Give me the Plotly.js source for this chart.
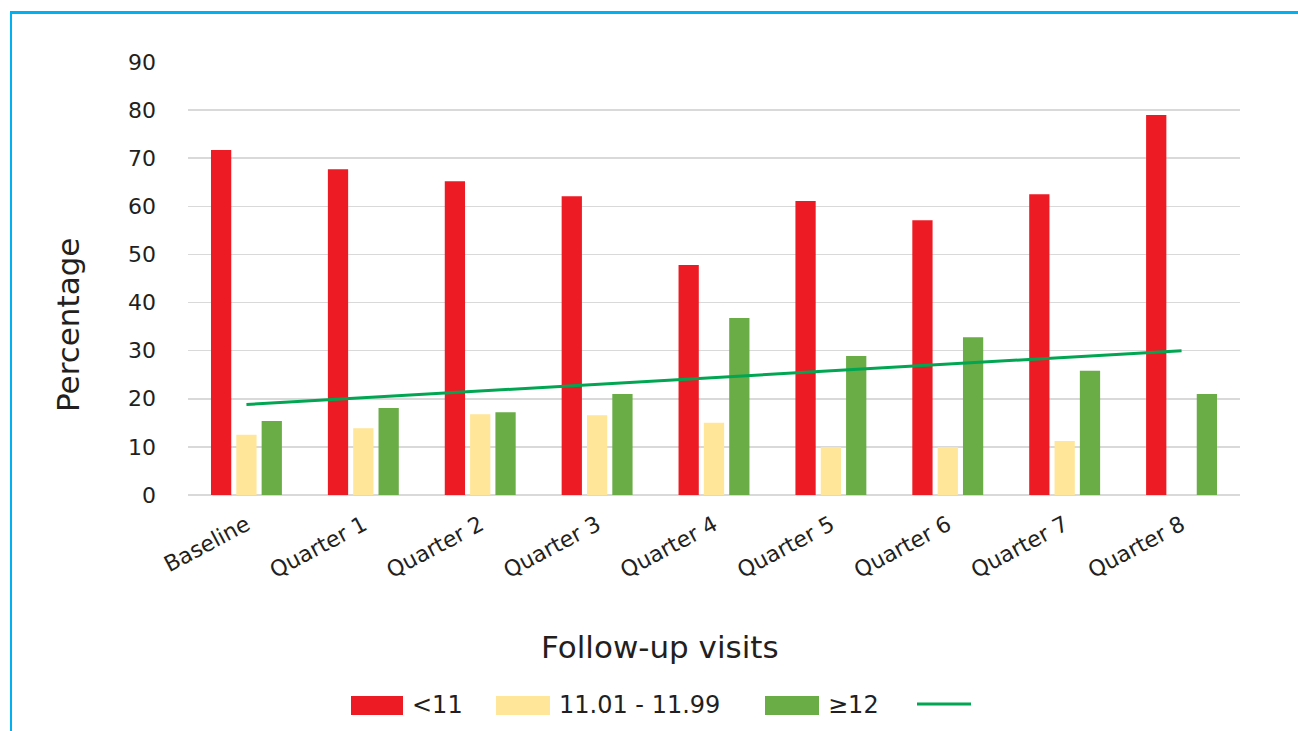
<!DOCTYPE html>
<html>
<head>
<meta charset="utf-8">
<script src="https://cdn.plot.ly/plotly-3.0.1.min.js"></script>
<style>
  html, body { margin: 0; padding: 0; background: #ffffff; overflow: hidden; }
  #chart { width: 1298px; height: 731px; position: absolute; left: 0; top: 0; }
  #frame { position: absolute; left: 10px; top: 11px; width: 1300px; height: 760px;
           border-top: 3px solid #00b0f0; border-left: 2px solid #00b0f0; pointer-events: none; }
</style>
</head>
<body>
<div id="chart"></div>
<div id="frame"></div>
<script>
// ---- data ----
const categories = ["Baseline", "Quarter 1", "Quarter 2", "Quarter 3", "Quarter 4",
                    "Quarter 5", "Quarter 6", "Quarter 7", "Quarter 8"];
const below11   = [71.7, 67.7, 65.2, 62.1, 47.8, 61.1, 57.1, 62.5, 79.0];
const mid11     = [12.5, 13.9, 16.8, 16.6, 15.0, 10.0, 10.0, 11.2, null];
const above12   = [15.4, 18.1, 17.2, 21.0, 36.8, 28.9, 32.8, 25.8, 21.0];
const trendX    = ["Baseline", "Quarter 8"];
const trendY    = [18.8, 30.0];
const seriesNames = ["<11", "11.01 - 11.99", "\u226512", ""];
const yTicks = [0, 10, 20, 30, 40, 50, 60, 70, 80, 90];
const xTitle = "Follow-up visits";
const yTitle = "Percentage";

const colors = ["#ed1c24", "#ffe699", "#6aac46", "#00a651"];
const FONT = "'DejaVu Sans', 'Liberation Sans', sans-serif";
const TXT = "#231f20";

const traces = [
  { type: "bar", x: categories, y: below11, name: seriesNames[0], marker: { color: colors[0] } },
  { type: "bar", x: categories, y: mid11,   name: seriesNames[1], marker: { color: colors[1] } },
  { type: "bar", x: categories, y: above12, name: seriesNames[2], marker: { color: colors[2] } },
  { type: "scatter", mode: "lines", x: trendX, y: trendY, name: seriesNames[3],
    line: { color: colors[3], width: 3 } }
];

// plot area in pixels: left 188, right 1240, top 62, bottom 495
const L = 188, R = 1240, T = 62, B = 495;
const xp = px => (px - L) / (R - L);
const yp = py => (B - py) / (B - T);

// custom legend (wide swatches as in the reference)
const legendItems = [
  { x0: 351, x1: 403, kind: "rect", color: colors[0], text: seriesNames[0], tx: 410 },
  { x0: 496, x1: 550, kind: "rect", color: colors[1], text: seriesNames[1], tx: 557 },
  { x0: 765, x1: 819, kind: "rect", color: colors[2], text: seriesNames[2], tx: 826 },
  { x0: 917, x1: 971, kind: "line", color: colors[3], text: "", tx: 0 }
];
const shapes = [], annotations = [];
legendItems.forEach(it => {
  if (it.kind === "rect") {
    shapes.push({ type: "rect", xref: "paper", yref: "paper",
      x0: xp(it.x0), x1: xp(it.x1), y0: yp(715), y1: yp(696),
      fillcolor: it.color, line: { width: 0 } });
  } else {
    shapes.push({ type: "line", xref: "paper", yref: "paper",
      x0: xp(it.x0), x1: xp(it.x1), y0: yp(704), y1: yp(704),
      line: { color: it.color, width: 3 } });
  }
  if (it.text) {
    annotations.push({ xref: "paper", yref: "paper", x: xp(it.tx), y: yp(705),
      xanchor: "left", yanchor: "middle", showarrow: false, text: it.text,
      font: { family: FONT, size: 24, color: TXT } });
  }
});
// axis titles placed as in the reference
annotations.push({ xref: "paper", yref: "paper", x: xp(660), y: yp(647),
  xanchor: "center", yanchor: "middle", showarrow: false, text: xTitle,
  font: { family: FONT, size: 31, color: TXT } });
annotations.push({ xref: "paper", yref: "paper", x: xp(68), y: yp(325),
  xanchor: "center", yanchor: "middle", showarrow: false, text: yTitle, textangle: -90,
  font: { family: FONT, size: 31, color: TXT } });

const layout = {
  width: 1298, height: 731,
  paper_bgcolor: "#ffffff", plot_bgcolor: "#ffffff",
  margin: { l: L, r: 1298 - R, t: T, b: 731 - B, pad: 0 },
  showlegend: false,
  barmode: "group",
  bargap: 0.35,
  bargroupgap: 0.2,
  font: { family: FONT, color: TXT },
  xaxis: {
    type: "category",
    tickangle: -28,
    tickfont: { family: FONT, size: 22, color: TXT },
    ticks: "", showgrid: false, showline: false, zeroline: false,
    ticklabelstandoff: 12
  },
  yaxis: {
    range: [0, 90],
    tickvals: yTicks,
    tickfont: { family: FONT, size: 22, color: TXT },
    showgrid: true, gridcolor: "#d9d9d9", gridwidth: 1.5,
    zeroline: true, zerolinecolor: "#d9d9d9", zerolinewidth: 1.5,
    showline: false, ticks: "",
    ticklabelstandoff: 31
  },
  shapes: shapes,
  annotations: annotations
};

Plotly.newPlot("chart", traces, layout, { displayModeBar: false, staticPlot: true });
</script>
</body>
</html>
